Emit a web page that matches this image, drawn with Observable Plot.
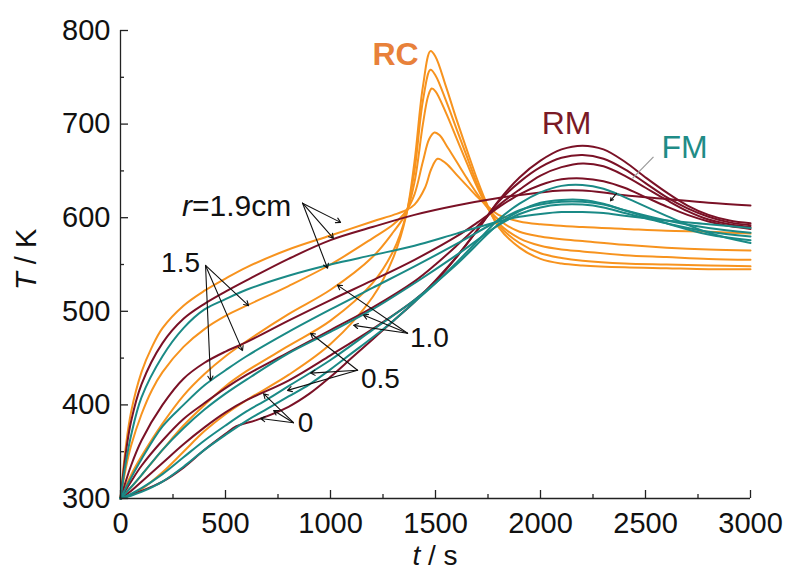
<!DOCTYPE html>
<html><head><meta charset="utf-8">
<script src="https://cdn.jsdelivr.net/npm/d3@7"></script>
<script src="https://cdn.jsdelivr.net/npm/@observablehq/plot@0.6"></script>
<style>body{margin:0;background:#fff;} #chart{width:788px;height:573px;overflow:hidden}</style>
</head><body><div id="chart"></div>
<script>
// ---- data: [t (s), T (K)] ----
const RC_19 = [[0,300],[25,355],[50,392],[100,435],[150,462],[200,482],[300,506],[400,522],[500,535],[600,547],[800,566],[1000,581],[1200,596],[1300,603],[1360,608],[1400,614],[1450,632],[1480,652],[1510,663],[1550,658],[1600,646],[1650,634],[1700,622],[1750,612],[1800,603],[1900,596],[2000,593],[2200,590],[2400,588],[2600,586],[2800,585],[3000,583]];
const RC_15 = [[0,300],[25,332],[50,356],[100,390],[150,416],[200,435],[300,462],[400,481],[500,495],[600,506],[800,527],[1000,550],[1200,578],[1300,593],[1360,607],[1400,625],[1440,660],[1470,684],[1495,691],[1520,688],[1550,678],[1600,660],[1650,642],[1700,625],[1750,610],[1800,598],[1900,585],[2000,580],[2100,577],[2200,575],[2400,571],[2600,568],[2800,566],[3000,565]];
const RC_10 = [[0,300],[50,325],[100,345],[200,380],[300,410],[400,433],[500,452],[600,468],[800,497],[1000,523],[1200,558],[1300,585],[1360,605],[1400,638],[1440,700],[1465,730],[1482,738],[1500,735],[1550,712],[1600,685],[1650,658],[1700,632],[1750,610],[1800,594],[1900,578],[2000,570],[2100,566],[2200,564],[2400,560],[2600,558],[2800,556],[3000,555]];
const RC_05 = [[0,300],[50,312],[100,325],[200,352],[300,378],[400,400],[500,420],[600,436],[800,463],[1000,490],[1200,530],[1300,565],[1360,603],[1400,650],[1440,725],[1476,758],[1500,752],[1550,725],[1600,695],[1650,665],[1700,635],[1750,610],[1800,592],[1900,573],[2000,562],[2100,557],[2200,554],[2400,551],[2600,550],[2800,549],[3000,548]];
const RC_0 = [[0,300],[50,304],[100,310],[200,328],[300,350],[400,372],[500,390],[600,405],[800,432],[1000,465],[1200,515],[1300,558],[1360,602],[1400,660],[1440,740],[1476,778],[1500,772],[1550,740],[1600,705],[1650,672],[1700,640],[1750,612],[1800,590],[1900,568],[2000,556],[2100,551],[2200,549],[2400,547],[2600,546],[2800,545],[3000,545]];

const RM_19 = [[0,300],[25,348],[50,382],[100,422],[200,466],[300,492],[400,508],[500,521],[600,533],[800,556],[1000,576],[1200,590],[1400,603],[1600,613],[1800,621],[2000,627],[2100,629],[2200,629],[2300,627],[2400,624],[2600,620],[2800,616],[3000,613]];
const RM_15 = [[0,300],[50,335],[100,362],[200,400],[300,428],[400,445],[500,457],[600,467],[800,490],[1000,512],[1200,533],[1400,555],[1600,580],[1700,595],[1800,611],[1900,625],[2000,635],[2100,641],[2200,642],[2300,639],[2400,632],[2500,622],[2600,612],[2700,603],[2800,596],[2900,591],[3000,588]];
const RM_10 = [[0,300],[50,318],[100,335],[200,362],[300,385],[400,402],[500,418],[600,432],[800,456],[1000,480],[1200,504],[1400,532],[1500,550],[1600,570],[1700,591],[1800,613],[1900,630],[2000,645],[2100,654],[2200,658],[2300,655],[2400,645],[2500,632],[2600,619],[2700,607],[2800,598],[2900,593],[3000,590]];
const RM_05 = [[0,300],[50,308],[100,318],[200,338],[300,358],[400,376],[500,392],[600,405],[800,426],[1000,453],[1200,481],[1400,512],[1500,532],[1600,558],[1700,587],[1800,617],[1900,638],[2000,654],[2100,664],[2200,667],[2300,663],[2400,652],[2500,637],[2600,622],[2700,610],[2800,601],[2900,595],[3000,592]];
const RM_0 = [[0,300],[100,308],[200,318],[300,333],[400,352],[500,369],[550,377],[650,384],[800,398],[900,412],[1000,430],[1100,450],[1200,470],[1300,490],[1400,510],[1500,533],[1600,558],[1700,587],[1800,618],[1900,643],[2000,661],[2100,673],[2200,677],[2300,673],[2400,660],[2500,643],[2600,627],[2700,613],[2800,603],[2900,597],[3000,594]];

const FM_19 = [[0,300],[25,338],[50,367],[100,408],[200,452],[300,482],[400,502],[500,513],[600,523],[800,538],[1000,550],[1200,560],[1400,570],[1600,583],[1800,596],[1900,601],[2000,604],[2100,606],[2200,606],[2300,605],[2400,602],[2600,597],[2800,593],[3000,589]];
const FM_15 = [[0,300],[50,322],[100,342],[200,377],[300,400],[400,421],[500,437],[600,452],[800,478],[1000,502],[1200,525],[1400,548],[1600,572],[1800,597],[1900,608],[2000,614],[2100,617],[2200,617],[2300,614],[2400,608],[2600,597],[2800,589],[3000,584]];
const FM_10 = [[0,300],[50,312],[100,325],[200,352],[300,375],[400,395],[500,412],[600,427],[800,455],[1000,478],[1200,502],[1400,530],[1600,560],[1800,592],[1900,604],[2000,611],[2100,614],[2200,614],[2300,611],[2400,605],[2600,594],[2800,585],[3000,580]];
const FM_05 = [[0,300],[50,305],[100,311],[200,326],[300,344],[400,362],[500,378],[600,393],[700,406],[800,420],[1000,448],[1200,480],[1400,512],[1600,550],[1800,593],[1900,607],[2000,616],[2100,619],[2200,619],[2300,615],[2400,608],[2600,594],[2800,582],[3000,576]];
const FM_0 = [[0,300],[50,303],[100,307],[200,318],[300,334],[400,352],[500,368],[600,383],[700,396],[800,409],[900,422],[1000,438],[1100,455],[1200,472],[1300,490],[1400,510],[1500,530],[1600,552],[1700,575],[1800,598],[1900,615],[2000,627],[2100,634],[2200,635],[2300,631],[2400,622],[2600,602],[2800,584],[3000,573]];

const MATERIALS = ["RC", "RM", "FM"];
const MATERIAL_COLORS = ["#F7931E", "#7A1126", "#1A8A86"];
const LABEL_COLORS = ["#E8813A", "#7A1A26", "#1F8C87"];
const SERIES = [
  ["RC", RC_19], ["RC", RC_15], ["RC", RC_10], ["RC", RC_05], ["RC", RC_0],
  ["RM", RM_19], ["RM", RM_15], ["RM", RM_10], ["RM", RM_05], ["RM", RM_0],
  ["FM", FM_19], ["FM", FM_15], ["FM", FM_10], ["FM", FM_05], ["FM", FM_0]
];

// axis ticks
const T_TICKS = [300, 400, 500, 600, 700, 800];
const T_MINOR = [350, 450, 550, 650, 750];
const t_TICKS = [0, 500, 1000, 1500, 2000, 2500, 3000];
const t_MINOR = [250, 750, 1250, 1750, 2250, 2750];

// annotations (data coordinates)
const MAT_LABEL_t = [1310, 2124, 2686];
const MAT_LABEL_T = [774, 700, 675];
const RADIUS_TEXT = ["1.5", "1.0", "0.5", "0"];
const RADIUS_t = [286, 1471, 1238, 881];
const RADIUS_T = [552, 471, 428, 381];
const ARROW_FROM = [[867,615.5],[867,615.5],[867,615.5],[405,549],[405,549],[405,549],[1367,476.5],[1367,476.5],[1367,476.5],[1129,437],[1129,437],[1129,437],[824,381],[824,381],[824,381],[2362,626]];
const ARROW_TO = [[1048,595],[1014,578],[986,546],[610,506],[581,458],[429,426],[1033,528],[1157,496],[1110,485],[905,476.5],[905,434],[795,415.5],[681,412],[729,394],[667,385.5],[2333,618]];
const FM_LEADER = [[2538,665],[2438,642]];
const FONT = "'Liberation Sans', Arial, sans-serif";

// ---- build ----
const colorOf = m => MATERIAL_COLORS[MATERIALS.indexOf(m)];
const lines = SERIES.map(([m, pts]) => Plot.line(pts, {x: d => d[0], y: d => d[1], stroke: colorOf(m), strokeWidth: 2, curve: "catmull-rom"}));

const arrows = ARROW_FROM.map((f, i) => ({x1: f[0], y1: f[1], x2: ARROW_TO[i][0], y2: ARROW_TO[i][1]}));
const matLabels = MATERIALS.map((m, i) => ({m, t: MAT_LABEL_t[i], T: MAT_LABEL_T[i], c: LABEL_COLORS[i]}));
const radLabels = RADIUS_TEXT.map((s, i) => ({s, t: RADIUS_t[i], T: RADIUS_T[i]}));
const noText = () => "";

const plot = Plot.plot({
  width: 788, height: 573,
  marginLeft: 120, marginRight: 38, marginTop: 30, marginBottom: 75,
  style: {fontFamily: FONT, background: "#fff", color: "#111"},
  x: {domain: [0, 3000]},
  y: {domain: [300, 800]},
  marks: [
    ...lines,
    Plot.arrow(arrows, {x1: "x1", y1: "y1", x2: "x2", y2: "y2", stroke: "#111", strokeWidth: 1.1, headLength: 7}),
    Plot.link([FM_LEADER], {x1: d => d[0][0], y1: d => d[0][1], x2: d => d[1][0], y2: d => d[1][1], stroke: "#999", strokeWidth: 1.2}),
    Plot.text(matLabels.filter(d => d.m === "RC"), {x: "t", y: "T", text: "m", fill: "c", fontSize: 32, fontWeight: "bold"}),
    Plot.text(matLabels.filter(d => d.m !== "RC"), {x: "t", y: "T", text: "m", fill: "c", fontSize: 32}),
    Plot.text(radLabels, {x: "t", y: "T", text: "s", fill: "#111", fontSize: 28}),
    Plot.ruleX([0], {stroke: "#222", strokeWidth: 1.3}),
    Plot.ruleY([300], {stroke: "#222", strokeWidth: 1.3}),
    // tick labels
    Plot.axisY({ticks: T_TICKS, tickSize: 0, tickPadding: 10, fontSize: 29, label: null, tickFormat: d => String(d)}),
    Plot.axisX({ticks: t_TICKS, tickSize: 0, tickPadding: 14, fontSize: 29, label: null, tickFormat: d => String(d)}),
    // inward ticks (shifted into the frame)
    Plot.axisY({ticks: T_TICKS, tickSize: 8, dx: 8, tickFormat: noText, label: null, stroke: "#222", strokeWidth: 1.3}),
    Plot.axisY({ticks: T_MINOR, tickSize: 4, dx: 4, tickFormat: noText, label: null, stroke: "#222", strokeWidth: 1.3}),
    Plot.axisX({ticks: t_TICKS, tickSize: 8, dy: -8, tickFormat: noText, label: null, stroke: "#222", strokeWidth: 1.3}),
    Plot.axisX({ticks: t_MINOR, tickSize: 4, dy: -4, tickFormat: noText, label: null, stroke: "#222", strokeWidth: 1.3})
  ]
});
document.getElementById("chart").appendChild(plot);

// text with italic parts, positioned through the plot's own scales
const sx = plot.scale("x"), sy = plot.scale("y");
const svg = d3.select(plot);
const rl = svg.append("text").attr("x", sx.apply(295)).attr("y", sy.apply(612)).attr("dy", "0.35em")
  .attr("text-anchor", "start").attr("font-size", 30).attr("fill", "#111").attr("font-family", FONT);
rl.append("tspan").attr("font-style", "italic").text("r");
rl.append("tspan").text("=1.9cm");

const xl = svg.append("text").attr("x", sx.apply(1500)).attr("y", 565).attr("text-anchor", "middle")
  .attr("font-size", 28).attr("fill", "#111").attr("font-family", FONT);
xl.append("tspan").attr("font-style", "italic").text("t");
xl.append("tspan").text(" / s");

const yl = svg.append("text").attr("transform", `translate(36,${sy.apply(555)}) rotate(-90)`).attr("text-anchor", "middle")
  .attr("font-size", 29).attr("fill", "#111").attr("font-family", FONT);
yl.append("tspan").attr("font-style", "italic").text("T");
yl.append("tspan").text(" / K");
</script></body></html>
